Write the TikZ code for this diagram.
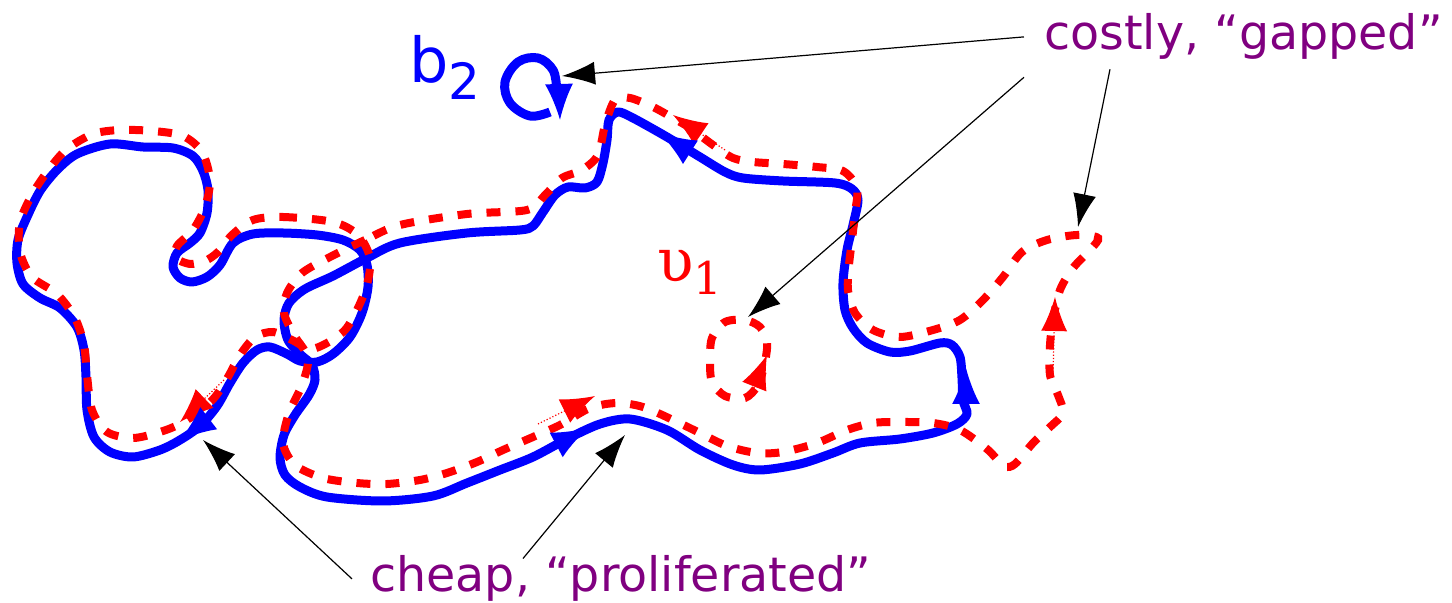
\documentclass[tikz,border=0pt]{standalone}
\usepackage{fontspec}
\setmainfont{DejaVu Sans}
\newfontfamily\greekserif{DejaVu Serif}
\usetikzlibrary{arrows.meta}
\definecolor{notepurple}{RGB}{128,0,128}

\tikzset{
    bluepath/.style={blue, line width=4.5pt, line join=round},
    redpath/.style={red, line width=4pt, dash pattern=on 7pt off 7.5pt},
    bluetip/.style={blue, line width=1pt, -{Latex[length=18pt,width=14pt]}},
    redtip/.style={red, line width=0.6pt, densely dotted, -{Latex[length=17pt,width=13pt]}},
    pointer/.style={black, line width=0.6pt, -{Latex[length=16.5pt,width=11.5pt]}},
    note/.style={notepurple, font=\fontsize{23.75}{28}\selectfont, anchor=base west},
}

\begin{document}
\begin{tikzpicture}[x=0.5pt, y=-0.5pt]
    \useasboundingbox (0,0) rectangle (1452,603);

    \draw[bluepath] plot[smooth cycle, tension=0.5] coordinates {
        (400,243) (367,258) (333,276) (305,289) (289,303) (284,320) (288,340)
        (301,355) (312,365) (315,380) (309,395) (295,415) (284,435) (280,458)
        (285,475) (300,487) (327,497) (383,501) (433,496) (467,483) (500,470)
        (533,457) (567,439) (600,424) (630,419) (667,430) (700,450) (733,465)
        (760,470) (800,464) (833,453) (860,443) (900,439) (933,433) (957,424)
        (967,414) (963,400) (962,378) (960,357) (952,345) (940,343) (910,351)
        (890,352) (867,343) (853,328) (845,310) (843,283) (847,250) (853,225)
        (858,200) (852,189) (835,183) (783,181) (743,178) (725,172) (700,157)
        (667,137) (633,118) (618,112) (609,120) (607,140) (603,163) (597,182)
        (585,188) (568,187) (555,195) (543,212) (533,226) (520,230) (467,233)};
    \draw[bluepath] plot[smooth cycle, tension=0.5] coordinates {
        (233,243) (253,234) (283,233) (317,235) (343,240) (360,250) (367,265)
        (368,287) (362,313) (350,337) (333,354) (317,362) (300,361) (287,354)
        (270,347) (257,350) (243,363) (230,383) (217,406) (200,426) (180,440)
        (160,450) (133,457) (110,452) (94,437) (87,410) (86,377) (84,350)
        (77,327) (60,308) (40,298) (23,284) (17,263) (18,240) (27,217) (40,191)
        (57,170) (77,154) (110,144) (143,147) (173,148) (193,156) (203,171)
        (208,190) (207,213) (200,233) (190,243) (177,253) (173,267) (180,278)
        (192,282) (207,277) (220,265)};
    \draw[bluepath] plot[smooth, tension=0.6] coordinates {
        (550,112) (530,116) (510,103) (505,82) (518,62) (538,58) (553,70)
        (557,90) (558,100)};

    \draw[redpath] plot[smooth cycle, tension=0.5] coordinates {
        (253,220) (283,217) (333,222) (358,235) (370,258) (367,285) (357,310)
        (345,330) (327,343) (310,349) (292,340) (273,332) (255,337) (240,355)
        (228,377) (215,397) (200,411) (180,424) (160,432) (133,438) (107,432)
        (92,410) (87,375) (84,345) (75,318) (57,294) (32,277) (20,252) (20,222)
        (33,193) (50,168) (67,149) (93,134) (120,130) (153,131) (183,136)
        (202,152) (210,180) (205,207) (193,230) (177,246) (176,258) (190,264)
        (205,261) (218,252) (232,235)};
    \draw[redpath] plot[smooth cycle, tension=0.5] coordinates {
        (400,225) (365,240) (330,257) (302,273) (287,293) (284,313) (294,335)
        (308,358) (302,385) (289,413) (283,443) (295,465) (323,478) (357,483)
        (387,484) (420,480) (447,473) (477,462) (503,450) (533,437) (560,425)
        (590,408) (617,403) (643,407) (673,420) (700,433) (727,446) (757,453)
        (783,452) (817,443) (847,430) (873,423) (900,422) (933,423) (960,430)
        (987,449) (1004,466) (1015,464) (1033,443) (1050,427) (1063,413)
        (1058,395) (1050,375) (1050,345) (1053,320) (1060,290) (1073,268)
        (1090,250) (1098,238) (1077,235) (1047,240) (1022,252) (1003,277)
        (983,300) (960,320) (933,330) (900,337) (873,330) (855,313) (848,290)
        (849,265) (852,240) (855,213) (857,188) (843,171) (817,167) (783,164)
        (753,162) (733,158) (713,145) (690,128) (673,118) (653,107) (630,98)
        (615,100) (605,125) (598,155) (582,170) (562,178) (545,195) (527,210)
        (467,214)};
    \draw[redpath] plot[smooth cycle, tension=0.5] coordinates {
        (745,398) (758,385) (765,362) (767,342) (760,327) (745,320) (725,322)
        (712,338) (710,360) (712,382) (725,396)};

    \draw[redtip] (224,380) -- (180,422);
    \draw[redtip] (538,424) -- (595,396);
    \draw[redtip] (725,150) -- (673,115);
    \draw[redtip] (749,400) -- (767,355);
    \draw[redtip] (1053,375) -- (1055,297);

    \draw[bluetip] (209,418) -- (180,440);
    \draw[bluetip] (556,445) -- (588,428);
    \draw[bluetip] (966,404) -- (966,368);
    \draw[bluetip] (690,152) -- (660,133);
    \draw[bluetip] (559,84) -- (560,120);

    \node[blue, font=\fontsize{31}{37}\selectfont, inner sep=0pt, anchor=base west] (btwo) at (409,83)
        {b\raisebox{-8.5pt}{\fontsize{25}{30}\selectfont 2}};
    \node[red, font=\greekserif\fontsize{30}{36}\selectfont, inner sep=0pt, anchor=base west] (upsone) at (657,282)
        {υ\raisebox{-6.5pt}{\fontsize{22.5}{27}\selectfont 1}};

    \node[note, inner xsep=10pt, inner ysep=8.5pt] (costly) at (1024,50) {costly, “gapped”};
    \node[note, inner xsep=9pt, inner ysep=0pt] (cheap) at (352,592) {cheap, “proliferated”};

    \coordinate (b2tip) at (562,76);
    \coordinate (upstip) at (748,317);
    \coordinate (gaptip) at (1078,227);
    \coordinate (lefttip) at (203,440);
    \coordinate (bottip) at (625,435);

    \draw[pointer] (costly.west) -- (b2tip);
    \draw[pointer] (costly.south west) -- (upstip);
    \draw[pointer] ([xshift=43pt,yshift=4pt]costly.south west) -- (gaptip);
    \draw[pointer] (cheap.west) -- (lefttip);
    \draw[pointer] ([xshift=85.5pt,yshift=-1.5pt]cheap.north west) -- (bottip);
\end{tikzpicture}
\end{document}
